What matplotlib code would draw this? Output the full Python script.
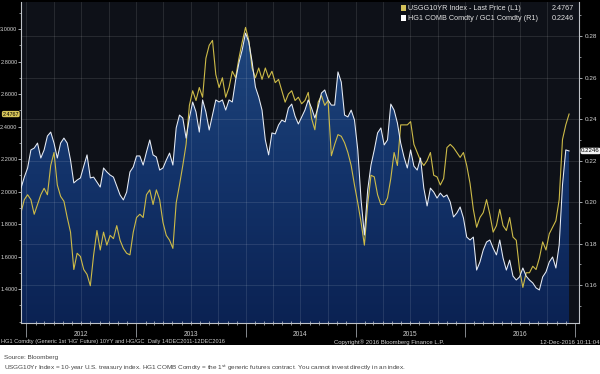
import numpy as np
import pandas as pd
import matplotlib
matplotlib.use("Agg")
import matplotlib.pyplot as plt
import matplotlib.dates as mdates
from matplotlib.patches import Rectangle
from matplotlib.colors import LinearSegmentedColormap
from matplotlib.transforms import blended_transform_factory
from matplotlib.ticker import FixedLocator, FormatStrFormatter, MultipleLocator

plt.rcParams["font.family"] = ["Liberation Sans", "DejaVu Sans"]

# ---------------- data ----------------
start_date = "2011-12-14"
end_date = "2016-12-12"

usgg10yr = [1.87, 1.95, 1.98, 1.95, 1.86, 1.92, 1.98, 2.02, 1.98, 2.16,
            2.24, 2.04, 1.97, 1.94, 1.84, 1.75, 1.52, 1.62, 1.60, 1.52,
            1.49, 1.42, 1.61, 1.76, 1.64, 1.75, 1.67, 1.73, 1.71, 1.79,
            1.70, 1.65, 1.62, 1.61, 1.75, 1.84, 1.86, 1.84, 1.98, 2.01,
            1.92, 2.01, 1.95, 1.81, 1.73, 1.70, 1.65, 1.93, 2.04, 2.16,
            2.29, 2.53, 2.62, 2.56, 2.64, 2.58, 2.82, 2.90, 2.93, 2.72,
            2.64, 2.70, 2.58, 2.64, 2.74, 2.70, 2.82, 2.92, 3.01, 2.93,
            2.76, 2.70, 2.76, 2.69, 2.76, 2.70, 2.74, 2.67, 2.69, 2.62,
            2.55, 2.60, 2.62, 2.56, 2.58, 2.54, 2.56, 2.61, 2.45, 2.38,
            2.55, 2.59, 2.53, 2.56, 2.22, 2.29, 2.35, 2.34, 2.30, 2.24,
            2.16, 2.04, 1.93, 1.81, 1.67, 1.92, 2.10, 2.09, 1.98, 1.92,
            1.92, 1.96, 2.08, 2.24, 2.16, 2.41, 2.41, 2.41, 2.43, 2.29,
            2.24, 2.19, 2.16, 2.19, 2.24, 2.10, 2.09, 2.04, 2.08, 2.27,
            2.29, 2.27, 2.24, 2.21, 2.24, 2.16, 2.05, 1.89, 1.78, 1.84,
            1.87, 1.95, 1.86, 1.75, 1.79, 1.89, 1.79, 1.76, 1.84, 1.72,
            1.70, 1.52, 1.41, 1.50, 1.50, 1.54, 1.52, 1.59, 1.69, 1.64,
            1.74, 1.78, 1.82, 1.95, 2.32, 2.41, 2.4767]

hg_gc = [0.2067, 0.2120, 0.2164, 0.2251, 0.2260, 0.2284, 0.2212, 0.2251, 0.2318, 0.2337,
         0.2284, 0.2212, 0.2284, 0.2308, 0.2284, 0.2202, 0.2092, 0.2106, 0.2116, 0.2173,
         0.2227, 0.2116, 0.2120, 0.2096, 0.2072, 0.2164, 0.2145, 0.2130, 0.2120, 0.2077,
         0.2034, 0.2010, 0.2048, 0.2145, 0.2169, 0.2222, 0.2222, 0.2178, 0.2241, 0.2299,
         0.2227, 0.2217, 0.2154, 0.2164, 0.2202, 0.2236, 0.2178, 0.2357, 0.2419, 0.2405,
         0.2308, 0.2405, 0.2482, 0.2434, 0.2337, 0.2492, 0.2434, 0.2347, 0.2419, 0.2492,
         0.2482, 0.2492, 0.2443, 0.2492, 0.2482, 0.2588, 0.2670, 0.2733, 0.2814, 0.2771,
         0.2675, 0.2554, 0.2506, 0.2443, 0.2299, 0.2227, 0.2333, 0.2328, 0.2371, 0.2395,
         0.2386, 0.2453, 0.2472, 0.2414, 0.2376, 0.2410, 0.2443, 0.2492, 0.2453, 0.2405,
         0.2458, 0.2525, 0.2540, 0.2492, 0.2467, 0.2467, 0.2627, 0.2578, 0.2419, 0.2410,
         0.2443, 0.2395, 0.2251, 0.2010, 0.1841, 0.2058, 0.2178, 0.2251, 0.2333, 0.2357,
         0.2275, 0.2299, 0.2472, 0.2443, 0.2381, 0.2284, 0.2217, 0.2164, 0.2251, 0.2173,
         0.2154, 0.2212, 0.2067, 0.1981, 0.2067, 0.2048, 0.2019, 0.2043, 0.2024, 0.2034,
         0.2000, 0.1928, 0.1947, 0.1976, 0.1923, 0.1831, 0.1817, 0.1831, 0.1672, 0.1711,
         0.1769, 0.1807, 0.1817, 0.1778, 0.1745, 0.1817, 0.1730, 0.1672, 0.1720, 0.1643,
         0.1624, 0.1639, 0.1682, 0.1643, 0.1624, 0.1610, 0.1586, 0.1576, 0.1639, 0.1663,
         0.1711, 0.1735, 0.1682, 0.1793, 0.2082, 0.2251, 0.2246]

left_ticks = [1.4, 1.6, 1.8, 2.0, 2.2, 2.4, 2.6, 2.8, 3.0]
right_ticks = [0.16, 0.18, 0.20, 0.22, 0.24, 0.26, 0.28]
year_labels = ["2012", "2013", "2014", "2015", "2016"]
last_yield = 2.4767
last_ratio = 0.2246

legend_l1 = "USGG10YR Index - Last Price (L1)"
legend_r1 = "HG1 COMB Comdty / GC1 Comdty (R1)"

# ---------------- figure ----------------
W, H = 600, 374
fig = plt.figure(figsize=(W / 100, H / 100), dpi=100)
fig.patch.set_facecolor("white")
fig.patches.append(Rectangle((0, 1 - 345 / H), 1, 345 / H, transform=fig.transFigure,
                             facecolor="black", edgecolor="none", zorder=0))

dates = pd.date_range(start_date, end_date, periods=len(usgg10yr))
x_left = pd.Timestamp(start_date)
x_right = pd.Timestamp(end_date) + pd.Timedelta(days=33)

rect = [21 / W, (H - 323) / H, (579 - 21) / W, (323 - 2) / H]
ax_f = fig.add_axes(rect)
ax_y = fig.add_axes(rect, sharex=ax_f)
ax_w = fig.add_axes(rect, sharex=ax_f)
ax_f.set_zorder(1)
ax_y.set_zorder(2)
ax_w.set_zorder(3)
ax_f.set_facecolor("#0e1118")
ax_y.set_facecolor("none")
ax_w.set_facecolor("none")

r_lim = (0.14169, 0.29639)
l_lim = (1.1908, 3.1662)
ax_f.set_xlim(x_left, x_right)
ax_f.set_ylim(*r_lim)
ax_w.set_ylim(*r_lim)
ax_y.set_ylim(*l_lim)

# gradient area under the HG/GC ratio
poly = ax_f.fill_between(dates, hg_gc, r_lim[0], facecolor="none", edgecolor="none")
cmap = LinearSegmentedColormap.from_list("bb", ["#0b2253", "#13336a", "#1f467d"])
xl = mdates.date2num([x_left, x_right])
im = ax_f.imshow(np.linspace(0, 1, 256).reshape(-1, 1), cmap=cmap, aspect="auto",
                 origin="lower", extent=[xl[0], xl[1], r_lim[0], 0.285], zorder=1)
im.set_clip_path(poly.get_paths()[0], transform=ax_f.transData)
ax_f.set_xlim(x_left, x_right)
ax_f.set_ylim(*r_lim)

# grid lines
for t in right_ticks:
    ax_f.axhline(t, color="white", alpha=0.12, lw=0.6, zorder=2)
for yr in range(2012, 2017):
    for m in (1, 4, 7, 10):
        ax_f.axvline(pd.Timestamp(year=yr, month=m, day=1), color="white",
                     alpha=0.12, lw=0.6, zorder=2)

ax_y.plot(dates, usgg10yr, color="#cdbb48", lw=0.8)
ax_w.plot(dates, hg_gc, color="#e8edf6", lw=0.75)

# spines
for a in (ax_f, ax_y, ax_w):
    for s in a.spines.values():
        s.set_visible(False)
ax_f.spines["right"].set_visible(True)
ax_f.spines["bottom"].set_visible(True)
ax_y.spines["left"].set_visible(True)
for s in (ax_f.spines["right"], ax_f.spines["bottom"], ax_y.spines["left"]):
    s.set_color("#bfc3c8")
    s.set_linewidth(0.8)

tick_col = "#d4d4d4"
# right axis
ax_f.yaxis.tick_right()
ax_f.yaxis.set_major_locator(FixedLocator(right_ticks))
ax_f.yaxis.set_major_formatter(FormatStrFormatter("%.2f"))
ax_f.yaxis.set_minor_locator(MultipleLocator(0.01))
ax_f.tick_params(axis="y", which="major", colors="#bfc3c8", labelcolor=tick_col,
                 labelsize=4.6, length=2.5, width=0.6, pad=1.5, direction="out")
ax_f.tick_params(axis="y", which="minor", colors="#bfc3c8", length=1.5, width=0.5)

# left axis
ax_y.yaxis.tick_left()
ax_y.yaxis.set_major_locator(FixedLocator(left_ticks))
ax_y.yaxis.set_major_formatter(FormatStrFormatter("%.4f"))
ax_y.yaxis.set_minor_locator(MultipleLocator(0.1))
ax_y.tick_params(axis="y", which="major", colors="#bfc3c8", labelcolor=tick_col,
                 labelsize=4.1, length=2.0, width=0.6, pad=0.5, direction="out")
ax_y.tick_params(axis="y", which="minor", colors="#bfc3c8", length=1.3, width=0.5)
ax_y.tick_params(axis="x", which="both", bottom=False, labelbottom=False)
ax_w.axis("off")

# x axis
ax_f.xaxis.set_major_locator(mdates.YearLocator())
ax_f.xaxis.set_minor_locator(mdates.MonthLocator())
ax_f.tick_params(axis="x", which="major", colors="#9a9ea4", length=10, width=0.6,
                 direction="out", labelbottom=False)
ax_f.tick_params(axis="x", which="minor", colors="#c8ccd2", length=3, width=0.5,
                 direction="inout")

ytr = blended_transform_factory(ax_f.transData, fig.transFigure)
for lab in year_labels:
    ax_f.text(pd.Timestamp(year=int(lab), month=7, day=1), 1 - 335 / H, lab,
              transform=ytr, ha="center", va="center", fontsize=4.8, color="#cfcfcf",
              clip_on=False)

# last value flags
trl = blended_transform_factory(ax_y.transAxes, ax_y.transData)
ax_y.text(-0.0035, last_yield, f"{last_yield:.4f}", transform=trl, ha="right", va="center",
          fontsize=3.9, color="black", clip_on=False,
          bbox=dict(boxstyle="round,pad=0.12,rounding_size=0.3", fc="#d8c65a", ec="none"))
trr = blended_transform_factory(ax_f.transAxes, ax_f.transData)
ax_f.text(1.004, last_ratio, f"{last_ratio:.4f}", transform=trr, ha="left", va="center",
          fontsize=4.4, color="black", clip_on=False, zorder=10,
          bbox=dict(boxstyle="round,pad=0.12,rounding_size=0.3", fc="#f2f2f2", ec="none"))

# legend
for i, (lab, val, col) in enumerate([(legend_l1, f"{last_yield:.4f}", "#d2c05a"),
                                     (legend_r1, f"{last_ratio:.4f}", "#ffffff")]):
    yc = 1 - (8 + 10 * i) / H
    fig.patches.append(Rectangle((401 / W, yc - 2.5 / H), 5 / W, 5 / H,
                                 transform=fig.transFigure, facecolor=col,
                                 edgecolor="none", zorder=20))
    fig.text(408 / W, yc, lab, fontsize=5.2, color="#e2e2e2", va="center", ha="left",
             zorder=20)
    fig.text(574 / W, yc, val, fontsize=5.2, color="#e2e2e2", va="center", ha="right",
             zorder=20)

# footer in the black band
fy = 1 - 342 / H
fig.text(1 / W, fy, "HG1 Comdty (Generic 1st 'HG' Future) 10YY and HG/GC  Daily 14DEC2011-12DEC2016",
         fontsize=4.1, color="#cfcfcf", va="center", ha="left")
fig.text(389 / W, fy, "Copyright\u00ae 2016 Bloomberg Finance L.P.", fontsize=4.3,
         color="#cfcfcf", va="center", ha="center")
fig.text(599 / W, fy, "12-Dec-2016 10:11:04", fontsize=4.3, color="#cfcfcf",
         va="center", ha="right")

# source text below
fig.text(4 / W, 1 - 357 / H, "Source: Bloomberg", fontsize=4.6, color="#444444",
         va="center", ha="left")
fig.text(4 / W, 1 - 368 / H,
         "USGG10Yr Index = 10-year U.S. treasury index. HG1 COMB Comdty = the 1$^{\\mathrm{st}}$ "
         "generic futures contract. You cannot invest directly in an index.",
         fontsize=4.55, color="#444444", va="center", ha="left")

fig.savefig("out.png", dpi=100, facecolor=fig.get_facecolor())
